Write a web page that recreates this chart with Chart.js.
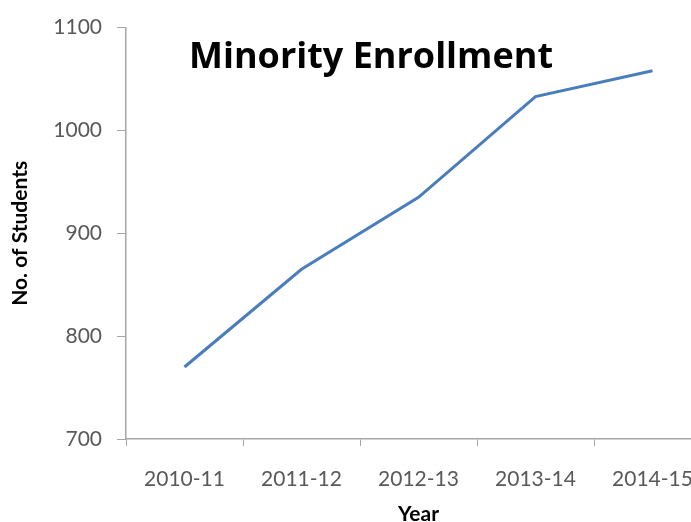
<!DOCTYPE html>
<html>
<head>
<meta charset="utf-8">
<script src="https://cdn.jsdelivr.net/npm/chart.js@4"></script>
<style>
  html, body { margin: 0; padding: 0; background: #fff; overflow: hidden; }
  #wrap { position: relative; width: 720px; height: 540px; }
  #title {
    position: absolute; left: 189px; top: 30px;
    font-family: "Open Sans", Lato, sans-serif; font-weight: bold;
    font-size: 36px; color: #000; white-space: nowrap;
  }
</style>
</head>
<body>
<div id="wrap">
  <canvas id="chart" width="720" height="540"></canvas>
  <div id="title">Minority Enrollment</div>
</div>
<script>
// chart data
const years = ['2010-11', '2011-12', '2012-13', '2013-14', '2014-15'];
const students = [770, 865, 935, 1033, 1058];
const yMin = 700;
const yMax = 1100;
const yStep = 100;

const axisGray = '#a6a6a6';
const labelGray = '#595959';
const fontFamily = 'Lato, "Open Sans", sans-serif';

const ctx = document.getElementById('chart').getContext('2d');
new Chart(ctx, {
    type: 'line',
    data: {
        labels: years,
        datasets: [{
            label: 'Students',
            data: students,
            borderColor: '#4a7ebb',
            borderWidth: 3,
            pointRadius: 0,
            tension: 0,
            fill: false
        }]
    },
    options: {
        responsive: false,
        animation: false,
        layout: { padding: { top: 25, right: 9, left: 0, bottom: 0 } },
        plugins: {
            legend: { display: false },
            title: { display: false },
            tooltip: { enabled: false }
        },
        scales: {
            x: {
                offset: true,
                grid: {
                    offset: true,
                    drawOnChartArea: false,
                    drawTicks: true,
                    tickLength: 7,
                    color: axisGray
                },
                border: { color: axisGray, width: 1.5 },
                ticks: {
                    color: labelGray,
                    padding: 21,
                    maxRotation: 0,
                    font: { family: fontFamily, size: 21 }
                },
                title: {
                    display: true,
                    text: 'Year',
                    color: '#000',
                    padding: { top: 0, bottom: 13 },
                    font: { family: fontFamily, size: 21, weight: 'bold' }
                },
                afterFit: function(scale) { scale.height = 101; }
            },
            y: {
                min: yMin,
                max: yMax,
                ticks: {
                    stepSize: yStep,
                    color: labelGray,
                    padding: 15,
                    font: { family: fontFamily, size: 21 },
                    callback: function(value) { return String(value); }
                },
                grid: {
                    drawOnChartArea: false,
                    drawTicks: true,
                    tickLength: 9,
                    color: axisGray
                },
                border: { color: axisGray, width: 1.5 },
                title: {
                    display: true,
                    text: 'No. of Students',
                    color: '#000',
                    padding: { top: 8, bottom: 0 },
                    font: { family: fontFamily, size: 21, weight: 'bold' }
                },
                afterFit: function(scale) { scale.width = 126; }
            }
        }
    }
});
</script>
</body>
</html>
